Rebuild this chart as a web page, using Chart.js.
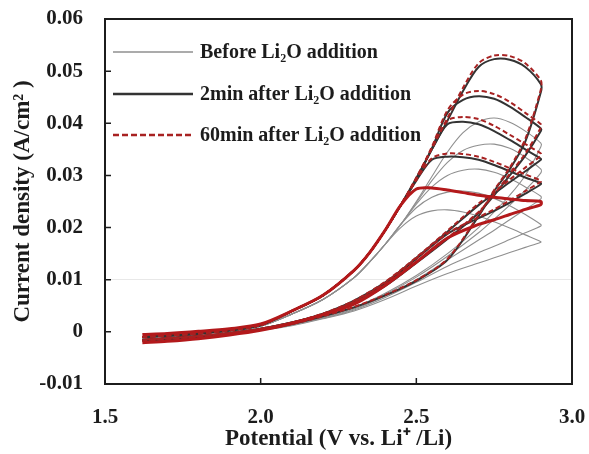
<!DOCTYPE html>
<html>
<head>
<meta charset="utf-8">
<script src="https://cdn.jsdelivr.net/npm/chart.js@4.4.1/dist/chart.umd.min.js"></script>
<style>
  html, body { margin:0; padding:0; background:#fff; }
  canvas { display:block; }
</style>
</head>
<body>
<canvas id="cv" width="589" height="454"></canvas>
<script>
// potential (V vs. Li+/Li): anodic sweep up to 2.9 V, then back down
const sweepUp   = [1.62,1.7,1.8,1.9,2.0,2.1,2.2,2.3,2.35,2.4,2.45,2.5,2.55,2.6,2.65,2.7,2.75,2.8,2.85,2.9];
const sweepDown = [2.9,2.85,2.8,2.75,2.7,2.6,2.5,2.4,2.3,2.2,2.1,2.0,1.9,1.8,1.7,1.62];

// current density (A/cm2), 20 values on the way up then 16 on the way back
const before1 = [-0.0011,-0.0008,-0.0004,0.0002,0.0011,0.0034,0.0062,0.0104,0.0134,0.0168,0.0206,
  0.0250,0.0298,0.0345,0.0382,0.0403,0.0410,0.0402,0.0385,0.0362,
  0.0355,0.0300,0.0262,0.0230,0.0200,0.0150,0.0108,0.0074,0.0047,0.0029,0.0015,0.0004,-0.0004,-0.0010,-0.0014,-0.0017];
const before2 = [-0.0011,-0.0008,-0.0004,0.0002,0.0011,0.0034,0.0062,0.0104,0.0134,0.0168,0.0206,
  0.0248,0.0290,0.0325,0.0348,0.0358,0.0360,0.0352,0.0335,0.0312,
  0.0305,0.0272,0.0243,0.0216,0.0190,0.0145,0.0105,0.0072,0.0046,0.0028,0.0014,0.0004,-0.0004,-0.0010,-0.0014,-0.0017];
const before3 = [-0.0011,-0.0008,-0.0004,0.0002,0.0011,0.0034,0.0062,0.0104,0.0134,0.0168,0.0206,
  0.0245,0.0278,0.0300,0.0310,0.0312,0.0306,0.0294,0.0278,0.0260,
  0.0255,0.0235,0.0215,0.0195,0.0176,0.0138,0.0100,0.0069,0.0044,0.0027,0.0014,0.0004,-0.0004,-0.0010,-0.0014,-0.0017];
const before4 = [-0.0011,-0.0008,-0.0004,0.0002,0.0011,0.0034,0.0062,0.0104,0.0134,0.0168,0.0206,
  0.0238,0.0258,0.0268,0.0270,0.0266,0.0256,0.0242,0.0225,0.0206,
  0.0203,0.0190,0.0177,0.0164,0.0152,0.0126,0.0095,0.0066,0.0042,0.0026,0.0013,0.0003,-0.0004,-0.0010,-0.0014,-0.0017];
const before5 = [-0.0011,-0.0008,-0.0004,0.0002,0.0011,0.0034,0.0062,0.0104,0.0134,0.0168,0.0200,
  0.0222,0.0232,0.0234,0.0230,0.0222,0.0211,0.0199,0.0186,0.0173,
  0.0172,0.0162,0.0152,0.0142,0.0132,0.0112,0.0088,0.0062,0.0040,0.0025,0.0012,0.0003,-0.0004,-0.0010,-0.0014,-0.0017];

const after2A = [-0.0010,-0.0007,-0.0003,0.0003,0.0013,0.0040,0.0070,0.0118,0.0152,0.0195,0.0243,
  0.0295,0.0350,0.0405,0.0462,0.0508,0.0523,0.0522,0.0508,0.0475,
  0.0460,0.0365,0.0312,0.0270,0.0222,0.0138,0.0098,0.0070,0.0047,0.0030,0.0015,0.0004,-0.0004,-0.0010,-0.0014,-0.0017];
const after2B = [-0.0010,-0.0007,-0.0003,0.0003,0.0013,0.0040,0.0070,0.0118,0.0152,0.0195,0.0243,
  0.0293,0.0352,0.0420,0.0445,0.0452,0.0447,0.0432,0.0412,0.0390,
  0.0385,0.0338,0.0300,0.0262,0.0228,0.0178,0.0132,0.0088,0.0055,0.0034,0.0017,0.0005,-0.0003,-0.0009,-0.0013,-0.0016];
const after2C = [-0.0010,-0.0007,-0.0003,0.0003,0.0013,0.0040,0.0070,0.0118,0.0152,0.0195,0.0243,
  0.0292,0.0350,0.0398,0.0403,0.0398,0.0385,0.0368,0.0350,0.0332,
  0.0330,0.0308,0.0287,0.0265,0.0243,0.0192,0.0142,0.0095,0.0060,0.0035,0.0018,0.0006,-0.0002,-0.0008,-0.0012,-0.0015];
const after2D = [-0.0010,-0.0007,-0.0003,0.0003,0.0013,0.0040,0.0070,0.0118,0.0152,0.0195,0.0243,
  0.0290,0.0330,0.0336,0.0335,0.0330,0.0320,0.0308,0.0296,0.0285,
  0.0283,0.0265,0.0248,0.0232,0.0218,0.0188,0.0140,0.0093,0.0058,0.0034,0.0018,0.0006,-0.0002,-0.0008,-0.0012,-0.0015];

const after60A = [-0.0010,-0.0007,-0.0003,0.0003,0.0013,0.0040,0.0070,0.0118,0.0152,0.0195,0.0243,
  0.0296,0.0352,0.0410,0.0468,0.0515,0.0530,0.0529,0.0515,0.0482,
  0.0465,0.0370,0.0315,0.0272,0.0224,0.0140,0.0099,0.0071,0.0048,0.0030,0.0015,0.0004,-0.0004,-0.0010,-0.0014,-0.0017];
const after60B = [-0.0010,-0.0007,-0.0003,0.0003,0.0013,0.0040,0.0070,0.0118,0.0152,0.0195,0.0243,
  0.0294,0.0355,0.0425,0.0455,0.0462,0.0456,0.0441,0.0420,0.0398,
  0.0392,0.0342,0.0303,0.0264,0.0230,0.0180,0.0133,0.0089,0.0056,0.0034,0.0017,0.0005,-0.0003,-0.0009,-0.0013,-0.0016];
const after60C = [-0.0010,-0.0007,-0.0003,0.0003,0.0013,0.0040,0.0070,0.0118,0.0152,0.0195,0.0243,
  0.0293,0.0352,0.0405,0.0412,0.0408,0.0395,0.0378,0.0360,0.0342,
  0.0338,0.0315,0.0292,0.0268,0.0246,0.0194,0.0143,0.0096,0.0060,0.0035,0.0018,0.0006,-0.0002,-0.0008,-0.0012,-0.0015];
const after60D = [-0.0010,-0.0007,-0.0003,0.0003,0.0013,0.0040,0.0070,0.0118,0.0152,0.0195,0.0243,
  0.0291,0.0333,0.0342,0.0341,0.0336,0.0326,0.0314,0.0302,0.0290,
  0.0288,0.0270,0.0252,0.0235,0.0220,0.0189,0.0141,0.0094,0.0058,0.0034,0.0018,0.0006,-0.0002,-0.0008,-0.0012,-0.0015];
// the low 60 min loop shows as a heavy solid red trace
const after60E = [-0.0005,-0.0003,0.0001,0.0006,0.0015,0.0040,0.0070,0.0118,0.0152,0.0195,0.0243,
  0.0274,0.0276,0.0272,0.0267,0.0262,0.0258,0.0255,0.0252,0.0250,
  0.0244,0.0235,0.0225,0.0215,0.0206,0.0180,0.0134,0.0089,0.0053,0.0033,0.0016,0.0003,-0.0006,-0.0013,-0.0018,-0.0021];

const beforeCurves  = [before1, before2, before3, before4, before5];
const after2Curves  = [after2A, after2B, after2C, after2D];
const after60Curves = [after60A, after60B, after60C, after60D];
const after60Heavy  = [after60E];

const legendLabels = ['Before Li\u2082O addition', '2min after Li\u2082O addition', '60min after Li\u2082O addition'];
const xTickLabels = ['1.5', '2.0', '2.5', '3.0'];
const yTickLabels = ['-0.01', '0', '0.01', '0.02', '0.03', '0.04', '0.05', '0.06'];
const xTitle = 'Potential (V vs. Li\u207A /Li)';
const yTitle = 'Current density (A/cm\u00B2 )';

// STYLES
const FONT = "'Liberation Serif', 'Times New Roman', serif";
const INK = '#1c1c1c';
const groupStyle = [
  { color:'#8f8f8f', width:1.1, dash:[] },
  { color:'#333333', width:2, dash:[] },
  { color:'#a82222', width:2, dash:[5,3] }
];
const heavyRed = { color:'#b3191b', width:3, dash:[] };

const sweep = sweepUp.concat(sweepDown);
function toPoints(curve){
  return curve.map((v, i) => ({ x: sweep[i], y: v }));
}
function makeSet(curve, st, order){
  return {
    data: toPoints(curve),
    showLine: true,
    borderColor: st.color,
    borderWidth: st.width,
    borderDash: st.dash,
    pointRadius: 0,
    tension: 0.3,
    fill: false,
    order
  };
}

const datasets = [];
beforeCurves.forEach(c => datasets.push(makeSet(c, groupStyle[0], 3)));
after2Curves.forEach(c => datasets.push(makeSet(c, groupStyle[1], 2)));
after60Curves.forEach(c => datasets.push(makeSet(c, groupStyle[2], 1)));
after60Heavy.forEach(c => datasets.push(makeSet(c, heavyRed, 0)));

// frame, inward ticks and the legend inside the plot
const framePlugin = {
  id: 'frameAndLegend',
  afterDraw(chart){
    const { ctx, chartArea: a, scales: { x, y } } = chart;
    ctx.save();
    ctx.setLineDash([]);
    ctx.strokeStyle = INK;
    ctx.lineWidth = 2;
    ctx.strokeRect(a.left, a.top, a.right - a.left, a.bottom - a.top);

    ctx.lineWidth = 1.5;
    ctx.beginPath();
    x.ticks.forEach(t => {
      const px = x.getPixelForValue(t.value);
      ctx.moveTo(px, a.bottom); ctx.lineTo(px, a.bottom - 6);
    });
    y.ticks.forEach(t => {
      const py = y.getPixelForValue(t.value);
      ctx.moveTo(a.left, py); ctx.lineTo(a.left + 6, py);
    });
    ctx.stroke();

    const rowY = [33, 75, 116];
    ctx.font = 'bold 20px ' + FONT;
    ctx.textBaseline = 'middle';
    ctx.fillStyle = INK;
    legendLabels.forEach((lab, i) => {
      const st = groupStyle[i];
      const yy = a.top + rowY[i];
      ctx.strokeStyle = st.color;
      ctx.lineWidth = i === 0 ? 1.5 : 2.5;
      ctx.setLineDash(i === 2 ? [6,3] : []);
      ctx.beginPath();
      ctx.moveTo(a.left + 8, yy); ctx.lineTo(a.left + 88, yy);
      ctx.stroke();
      ctx.fillText(lab, a.left + 95, yy + 1);
    });
    ctx.restore();
  }
};

new Chart(document.getElementById('cv'), {
  type: 'scatter',
  data: { datasets },
  options: {
    responsive: false,
    animation: false,
    layout: { padding: { top: 19, right: 17, left: 0, bottom: 0 } },
    plugins: { legend: { display: false }, tooltip: { enabled: false } },
    scales: {
      x: {
        type: 'linear', min: 1.5, max: 3.0,
        afterFit: s => { s.height = 70; s.paddingLeft = 0; s.paddingRight = 0; },
        grid: { display: false },
        border: { display: false },
        ticks: {
          stepSize: 0.5, autoSkip: false, maxRotation: 0, padding: 13,
          color: INK, font: { family: FONT, size: 21, weight: 'bold' },
          callback: (v, i) => xTickLabels[i]
        },
        title: {
          display: true, text: xTitle, color: INK,
          font: { family: FONT, size: 23, weight: 'bold' },
          padding: { top: 0, bottom: 1 }
        }
      },
      y: {
        type: 'linear', min: -0.01, max: 0.06,
        afterFit: s => { s.width = 105; s.paddingTop = 0; s.paddingBottom = 0; },
        grid: {
          drawTicks: false,
          color: c => (c.tick && Math.abs(c.tick.value - 0.01) < 1e-9) ? 'rgba(0,0,0,0.09)' : 'rgba(0,0,0,0)'
        },
        border: { display: false },
        ticks: {
          stepSize: 0.01, autoSkip: false, padding: 22,
          color: INK, font: { family: FONT, size: 21, weight: 'bold' },
          callback: (v, i) => yTickLabels[i]
        },
        title: {
          display: true, text: yTitle, color: INK,
          font: { family: FONT, size: 23, weight: 'bold' },
          padding: { top: 9, bottom: 0 }
        }
      }
    }
  },
  plugins: [framePlugin]
});
</script>
</body>
</html>
